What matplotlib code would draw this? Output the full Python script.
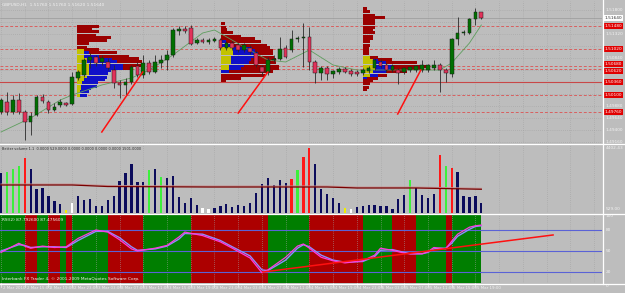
import matplotlib
matplotlib.use("Agg")
import matplotlib.pyplot as plt
from matplotlib.lines import Line2D
from matplotlib.transforms import blended_transform_factory as blend

# ---- GBPUSD H1 bars ----
opens = [1.4976, 1.4996, 1.4976, 1.5000, 1.4976, 1.4956, 1.4970, 1.5006, 1.4996, 1.4980,
         1.4990, 1.4994, 1.4992, 1.5044, 1.5050, 1.5080, 1.5086, 1.5076, 1.5076, 1.5060,
         1.5034, 1.5030, 1.5036, 1.5068, 1.5050, 1.5074, 1.5056, 1.5074, 1.5080, 1.5090,
         1.5138, 1.5142, 1.5144, 1.5114, 1.5120, 1.5116, 1.5118, 1.5120, 1.5104, 1.5114,
         1.5110, 1.5100, 1.5104, 1.5094, 1.5066, 1.5056, 1.5080, 1.5082, 1.5104, 1.5100,
         1.5122, 1.5124, 1.5126, 1.5076, 1.5054, 1.5064, 1.5052, 1.5056, 1.5062, 1.5058,
         1.5056, 1.5054, 1.5058, 1.5064, 1.5076, 1.5070, 1.5060, 1.5060, 1.5056, 1.5060,
         1.5060, 1.5060, 1.5060, 1.5064, 1.5070, 1.5060, 1.5052, 1.5122, 1.5134, 1.5134,
         1.5162, 1.5176]
highs = [1.5004, 1.5016, 1.5010, 1.5014, 1.4980, 1.4976, 1.5010, 1.5012, 1.5000, 1.4994,
         1.5002, 1.4996, 1.5056, 1.5060, 1.5084, 1.5094, 1.5090, 1.5090, 1.5084, 1.5070,
         1.5040, 1.5044, 1.5070, 1.5076, 1.5090, 1.5080, 1.5090, 1.5090, 1.5100, 1.5144,
         1.5148, 1.5148, 1.5150, 1.5124, 1.5124, 1.5124, 1.5126, 1.5124, 1.5118, 1.5118,
         1.5114, 1.5114, 1.5110, 1.5100, 1.5070, 1.5086, 1.5090, 1.5126, 1.5110, 1.5140,
         1.5128, 1.5154, 1.5146, 1.5080, 1.5068, 1.5068, 1.5060, 1.5066, 1.5066, 1.5062,
         1.5060, 1.5064, 1.5068, 1.5084, 1.5082, 1.5074, 1.5072, 1.5064, 1.5066, 1.5068,
         1.5070, 1.5080, 1.5072, 1.5080, 1.5074, 1.5064, 1.5124, 1.5166, 1.5140, 1.5164,
         1.5184, 1.5176]
lows = [1.4972, 1.4970, 1.4972, 1.4972, 1.4920, 1.4930, 1.4968, 1.4994, 1.4974, 1.4978,
        1.4986, 1.4988, 1.4990, 1.5040, 1.5046, 1.5064, 1.5068, 1.5070, 1.5060, 1.5024,
        1.5004, 1.5010, 1.5032, 1.5046, 1.5044, 1.5052, 1.5054, 1.5064, 1.5060, 1.5086,
        1.5130, 1.5134, 1.5110, 1.5112, 1.5114, 1.5112, 1.5116, 1.5100, 1.5100, 1.5100,
        1.5096, 1.5096, 1.5092, 1.5066, 1.5050, 1.5050, 1.5076, 1.5080, 1.5084, 1.5096,
        1.5116, 1.5066, 1.5060, 1.5034, 1.5040, 1.5040, 1.5044, 1.5052, 1.5054, 1.5048,
        1.5048, 1.5050, 1.5054, 1.5060, 1.5064, 1.5056, 1.5056, 1.5032, 1.5052, 1.5056,
        1.5056, 1.5056, 1.5056, 1.5060, 1.5016, 1.5036, 1.5046, 1.5110, 1.5130, 1.5132,
        1.5150, 1.5162]
closes = [1.5000, 1.4976, 1.5000, 1.4976, 1.4956, 1.4968, 1.5006, 1.4998, 1.4980, 1.4986,
          1.4996, 1.4990, 1.5046, 1.5056, 1.5080, 1.5086, 1.5074, 1.5084, 1.5064, 1.5034,
          1.5030, 1.5036, 1.5066, 1.5050, 1.5074, 1.5056, 1.5076, 1.5080, 1.5090, 1.5140,
          1.5142, 1.5138, 1.5112, 1.5120, 1.5116, 1.5120, 1.5122, 1.5104, 1.5114, 1.5104,
          1.5100, 1.5110, 1.5096, 1.5070, 1.5056, 1.5080, 1.5082, 1.5102, 1.5086, 1.5122,
          1.5124, 1.5126, 1.5076, 1.5054, 1.5064, 1.5052, 1.5058, 1.5062, 1.5056, 1.5052,
          1.5052, 1.5060, 1.5064, 1.5080, 1.5068, 1.5060, 1.5068, 1.5054, 1.5064, 1.5066,
          1.5068, 1.5070, 1.5070, 1.5070, 1.5060, 1.5054, 1.5122, 1.5134, 1.5136, 1.5162,
          1.5176, 1.5164]

# moving average on price (read at a few bars)
ma_idx = [0, 5, 10, 12, 17, 22, 25, 29, 34, 36, 41, 45, 48, 52, 56, 60, 74, 76, 79, 81]
ma_val = [1.4936, 1.4964, 1.5000, 1.5010, 1.5030, 1.5044, 1.5060, 1.5090, 1.5134, 1.5140,
          1.5106, 1.5080, 1.5076, 1.5100, 1.5070, 1.5060, 1.5060, 1.5074, 1.5114, 1.5150]

# horizontal levels
levels = [1.5148, 1.5102, 1.5068, 1.5062, 1.5036, 1.5010, 1.4976]
level_solid = [False, False, False, False, True, False, False]
level_label_pos = [1.5148, 1.5102, 1.5072, 1.5058, 1.5036, 1.5010, 1.4976]
price_ticks = [1.5180, 1.5132, 1.5084, 1.4988, 1.4964, 1.4940, 1.4916]
price_grid = [1.5180, 1.5156, 1.5132, 1.5108, 1.5084, 1.5060, 1.5036, 1.5012,
              1.4988, 1.4964, 1.4940, 1.4916]
last_price = 1.5164

# trend lines drawn on the chart (bar, price) pairs
trend_lines = [((17.0, 1.4936), (23.9, 1.5056)),
               ((40.0, 1.4974), (45.0, 1.5056)),
               ((66.9, 1.4972), (70.8, 1.5060))]

# volume profiles: anchor bar, price rows, widths in bars (yellow / blue / red)
prof1_anchor = 12.8
prof1_levels = [1.5148, 1.5142, 1.5136, 1.5130, 1.5124, 1.5118, 1.5112, 1.5106, 1.5100, 1.5094,
                1.5088, 1.5082, 1.5076, 1.5070, 1.5064, 1.5058, 1.5052, 1.5046, 1.5040, 1.5034,
                1.5028, 1.5022, 1.5016, 1.5010]
prof1_yel = [0, 0, 0, 0, 0, 0, 0, 0, 1.2, 1.2, 1.2, 1.7, 1.7, 2.0, 2.0, 2.0, 2.0, 1.7, 1.2, 0.8,
             0.7, 0.7, 0.5, 0.5]
prof1_blu = [0, 0, 0, 0, 0, 0, 0, 0, 0, 0.8, 2.5, 4.2, 5.0, 5.8, 5.8, 3.8, 3.3, 3.3, 3.5, 2.8,
             2.7, 1.7, 1.5, 1.2]
prof1_red = [3.7, 2.5, 3.7, 3.3, 5.8, 5.0, 2.0, 1.7, 2.5, 4.7, 5.0, 4.5, 4.2, 3.7, 1.3, 0, 0, 0,
             0, 0, 0, 0, 0, 0]

prof2_anchor = 37.1
prof2_levels = [1.5152, 1.5146, 1.5140, 1.5134, 1.5128, 1.5122, 1.5116, 1.5110, 1.5104, 1.5098,
                1.5092, 1.5086, 1.5080, 1.5074, 1.5068, 1.5062, 1.5056, 1.5050, 1.5044, 1.5038]
prof2_yel = [0, 0, 0, 0, 0, 0, 0, 0, 2.0, 2.0, 2.0, 1.7, 1.7, 1.7, 1.3, 1.3, 0, 0, 0, 0]
prof2_blu = [0, 0, 0, 0, 0, 0, 0.8, 2.0, 3.3, 3.7, 4.2, 4.2, 3.3, 3.0, 2.5, 2.0, 1.3, 0, 0, 0]
prof2_red = [0.7, 0.8, 1.0, 2.0, 3.3, 5.8, 5.9, 5.7, 3.0, 3.0, 2.5, 3.1, 4.2, 4.6, 5.9, 6.5,
             7.4, 7.5, 3.3, 0.8]

prof3_anchor = 61.0
prof3_levels = [1.5182, 1.5176, 1.5170, 1.5164, 1.5158, 1.5152, 1.5146, 1.5140, 1.5134, 1.5128,
                1.5122, 1.5116, 1.5110, 1.5104, 1.5098, 1.5092, 1.5086, 1.5080, 1.5074, 1.5068,
                1.5062, 1.5056, 1.5050, 1.5044, 1.5038, 1.5032, 1.5026, 1.5020]
prof3_yel = [0] * 16 + [1.3, 1.7, 2.0, 2.0, 2.0, 1.7, 1.3, 0, 0, 0, 0, 0]
prof3_blu = [0] * 17 + [0.8, 2.0, 3.0, 3.0, 2.3, 1.3, 0.8, 0, 0, 0, 0]
prof3_red = [0.8, 1.3, 2.0, 3.7, 2.0, 2.0, 2.0, 1.7, 2.0, 1.7, 1.7, 1.3, 1.3, 1.0, 1.0, 1.0,
             1.2, 2.5, 5.2, 6.3, 5.3, 3.5, 1.5, 1.7, 1.7, 1.3, 1.0, 0.7]

# ---- Better volume ----
volumes = [2628, 2694, 2891, 3088, 3613, 2891, 1577, 1643, 1117, 788,
           591, 197, 657, 1117, 854, 920, 460, 460, 854, 1117,
           2102, 2628, 3219, 2037, 2037, 2825, 2891, 2365, 2300, 2431,
           1051, 657, 986, 526, 300, 260, 330, 460, 591, 394,
           526, 460, 657, 1314, 1905, 2300, 1840, 2168, 1971, 2234,
           2825, 3679, 4271, 3219, 1577, 1248, 986, 657, 330, 263,
           394, 460, 526, 526, 460, 460, 263, 920, 1183, 2168,
           1643, 1183, 986, 1248, 3811, 3088, 2957, 2694, 1117, 1051,
           1117, 657]
vol_green = [1, 2, 3, 25, 27, 50, 69, 75]
vol_red = [4, 49, 51, 52, 74, 76]
vol_white = [12, 34, 35, 59]
vol_yellow = [11, 58]
vol_ma_idx = [0, 12, 18, 35, 55, 60, 70, 81]
vol_ma_val = [1840, 1840, 1740, 1708, 1708, 1643, 1643, 1560]
vol_ma2_val = [1900, 1900, 1800, 1770, 1770, 1700, 1700, 1620]

# ---- oscillator panel ----
osc_idx = [0, 3, 4, 5, 7, 9, 11, 13, 16, 18, 20, 22, 23, 26, 28, 30, 31, 34, 37, 39,
           42, 44, 45, 48, 50, 51, 52, 54, 56, 58, 61, 63, 64, 66, 68, 69, 71, 72, 73, 74,
           75, 76, 77, 79, 80, 81]
osc_main = [48, 61, 57, 54, 57, 55, 56, 68, 80, 77, 66, 53, 50, 54, 58, 70, 77, 72, 63, 54,
            40, 19, 23, 41, 57, 60, 54, 41, 36, 33, 36, 44, 54, 51, 47, 46, 46, 49, 55, 54,
            53, 64, 74, 84, 86, 87]
osc_signal = [50, 59, 58, 55, 56, 56, 55, 65, 78, 78, 69, 56, 51, 53, 57, 67, 75, 74, 65, 56,
              43, 23, 22, 37, 54, 59, 56, 44, 37, 34, 35, 42, 51, 52, 48, 46, 46, 48, 53, 54,
              54, 61, 71, 81, 85, 86]
band_edges = [-0.2, 4, 6, 8, 10, 11, 12, 18, 24, 32, 45, 52, 61, 66, 70, 75, 76, 81]
band_kind = list("grgrgrgrgrgrgrgrg")
osc_levels = [80, 50, 20]
osc_axis = [100, 80, 50, 20, 0]
osc_trend = ((44.2, 20), (93.1, 72.9))

time_labels = ["2 Mar 2010", "2 Mar 15:00", "2 Mar 19:00", "2 Mar 23:00", "3 Mar 03:00",
               "3 Mar 07:00", "3 Mar 11:00", "3 Mar 15:00", "3 Mar 19:00", "3 Mar 23:00",
               "4 Mar 03:00", "4 Mar 07:00", "4 Mar 11:00", "4 Mar 15:00", "4 Mar 19:00",
               "4 Mar 23:00", "5 Mar 03:00", "5 Mar 07:00", "5 Mar 11:00", "5 Mar 15:00",
               "5 Mar 19:00"]

BG = "#bdbdbd"
GRID = "#a2a2a2"
TXT = "#f2f2f2"
FS = 3.1
FONT = ["Liberation Sans Narrow", "DejaVu Sans"]
W, H = 625, 293
plt.rcParams["font.family"] = FONT


def px_box(x0, y0, x1, y1):
    return [x0 / W, 1 - y1 / H, (x1 - x0) / W, (y1 - y0) / H]


fig = plt.figure(figsize=(6.25, 2.93), dpi=100, facecolor=BG)
ax_p = fig.add_axes(px_box(0, 1, 602, 143))
ax_v = fig.add_axes(px_box(0, 145, 602, 213))
ax_i = fig.add_axes(px_box(0, 215, 602, 283))
for ax in (ax_p, ax_v, ax_i):
    ax.set_facecolor(BG)
    ax.set_xlim(-0.17, 101.35)
    ax.set_xticks([])
    ax.set_yticks([])
    for s in ax.spines.values():
        s.set_visible(False)

grid_x = list(range(0, 101, 4))

# ---------- price panel ----------
ax_p.set_ylim(1.4914, 1.5198)
for g in grid_x:
    ax_p.axvline(g, color=GRID, lw=0.5, ls=(0, (1, 2)), zorder=0)
for t in price_grid:
    ax_p.axhline(t, color=GRID, lw=0.5, ls=(0, (1, 2)), zorder=0)

for lv, solid in zip(levels, level_solid):
    if solid:
        ax_p.axhline(lv, color="#c84848", lw=0.8, zorder=1)
    else:
        ax_p.axhline(lv, color="#d86060", lw=0.7, ls=(0, (3, 2)), zorder=1)
ax_p.axhline(last_price, color="#9a9a9a", lw=0.5, zorder=1)


def draw_profile(ax, anchor, lv, yel, blu, red):
    left_b = [anchor + a for a in yel]
    left_r = [anchor + a + b for a, b in zip(yel, blu)]
    ax.barh(lv, yel, left=anchor, height=0.0006, color="#c2c200", lw=0, zorder=2)
    ax.barh(lv, blu, left=left_b, height=0.0006, color="#1010c8", lw=0, zorder=2)
    ax.barh(lv, red, left=left_r, height=0.0006, color="#9a0000", lw=0, zorder=2)


draw_profile(ax_p, prof1_anchor, prof1_levels, prof1_yel, prof1_blu, prof1_red)
draw_profile(ax_p, prof2_anchor, prof2_levels, prof2_yel, prof2_blu, prof2_red)
draw_profile(ax_p, prof3_anchor, prof3_levels, prof3_yel, prof3_blu, prof3_red)

ax_p.plot(ma_idx, ma_val, color="#5e9e5e", lw=0.6, zorder=3)

bars = range(len(opens))
ax_p.vlines(bars, lows, highs, color="#2a2a2a", lw=0.6, zorder=4)
bottoms = [min(o, c) for o, c in zip(opens, closes)]
heights = [max(abs(c - o), 0.00005) for o, c in zip(opens, closes)]
cols = ["#007000" if c >= o else "#e2325a" for o, c in zip(opens, closes)]
ax_p.bar(bars, heights, bottom=bottoms, width=0.62, color=cols,
         edgecolor="#1a1a1a", linewidth=0.35, zorder=5)

for (x0, y0), (x1, y1) in trend_lines:
    ax_p.plot([x0, x1], [y0, y1], color="#ff1010", lw=1.1, zorder=6)

ax_p.text(0.004, 0.985, "GBPUSD,H1  1.51760 1.51760 1.51620 1.51640",
          transform=ax_p.transAxes, fontsize=FS, color=TXT, va="top", ha="left")

tr = blend(ax_p.transAxes, ax_p.transData)
for t in price_ticks:
    ax_p.text(1.006, t, f"{t:.5f}", transform=tr, fontsize=FS, color=TXT,
              va="center", ha="left", clip_on=False)
for lv, pos in zip(levels, level_label_pos):
    ax_p.text(1.004, pos, f"{lv:.5f}", transform=tr, fontsize=FS, color="white",
              va="center", ha="left", clip_on=False,
              bbox=dict(boxstyle="square,pad=0.2", fc="#e00000", ec="none"))
ax_p.text(1.004, last_price, f"{last_price:.5f}", transform=tr, fontsize=FS,
          color="#303030", va="center", ha="left", clip_on=False,
          bbox=dict(boxstyle="square,pad=0.2", fc="white", ec="none"))

# ---------- volume panel ----------
ax_v.set_ylim(0, 4468)
for g in grid_x:
    ax_v.axvline(g, color=GRID, lw=0.5, ls=(0, (1, 2)), zorder=0)
vcols = []
for i in bars:
    if i in vol_green:
        vcols.append("#3cf03c")
    elif i in vol_red:
        vcols.append("#ff1818")
    elif i in vol_white:
        vcols.append("#ffffff")
    elif i in vol_yellow:
        vcols.append("#f0f000")
    else:
        vcols.append("#0c0c5c")
ax_v.bar(bars, volumes, width=0.38, color=vcols, lw=0, zorder=2)
ax_v.plot(vol_ma_idx, vol_ma2_val, color="#c49090", lw=0.8, zorder=3)
ax_v.plot(vol_ma_idx, vol_ma_val, color="#780000", lw=0.9, zorder=3)
ax_v.text(0.004, 0.97, "Better volume 1.1  0.0000 529.0000 0.0000 0.0000 0.0000 0.0000 1501.0000",
          transform=ax_v.transAxes, fontsize=2.5, color="#2a2a2a", va="top", ha="left")
ax_v.text(1.006, 0.985, "4402.43", transform=ax_v.transAxes, fontsize=FS, color=TXT,
          va="top", ha="left", clip_on=False)
ax_v.text(1.006, 0.03, "529.00", transform=ax_v.transAxes, fontsize=FS, color=TXT,
          va="bottom", ha="left", clip_on=False)

# ---------- oscillator panel ----------
ax_i.set_ylim(4.3, 101.4)
band_col = {"g": "#007e00", "r": "#ac0000"}
for a, b, k in zip(band_edges[:-1], band_edges[1:], band_kind):
    ax_i.axvspan(a, b, color=band_col[k], lw=0, zorder=0)
for g in grid_x:
    ax_i.axvline(g, color=GRID, lw=0.5, ls=(0, (1, 2)), zorder=1)
for lv in osc_levels:
    ax_i.axhline(lv, color="#5a62d6", lw=0.8, zorder=2)
ax_i.plot(osc_idx, osc_signal, color="#8c8cff", lw=1.0, zorder=3)
ax_i.plot(osc_idx, osc_main, color="#ff3cdc", lw=0.9, zorder=4)
ax_i.plot([osc_trend[0][0], osc_trend[1][0]], [osc_trend[0][1], osc_trend[1][1]],
          color="#ff1010", lw=1.1, zorder=5)
ax_i.text(0.004, 0.96, "RSI(2) 87.792600 87.475609", transform=ax_i.transAxes,
          fontsize=FS, color=TXT, va="top", ha="left")
ax_i.text(0.004, 0.03, "Interbank FX Trader 4, \u00a9 2001-2009 MetaQuotes Software Corp.",
          transform=ax_i.transAxes, fontsize=FS, color=TXT, va="bottom", ha="left")
tri = blend(ax_i.transAxes, ax_i.transData)
for v in osc_axis:
    ax_i.text(1.006, v, str(v), transform=tri, fontsize=FS, color=TXT,
              va="center", ha="left", clip_on=False)

# time axis
trt = blend(ax_i.transData, ax_i.transAxes)
for k, lab in enumerate(time_labels):
    x = 4 * k
    ax_i.add_line(Line2D([x, x], [0, -0.06], transform=trt, color=TXT, lw=0.5, clip_on=False))
    ax_i.text(x + 0.3, -0.075, lab, transform=trt, fontsize=2.9, color=TXT,
              va="center", ha="left", clip_on=False)

# panel separators
for yy in (144, 214, 283.5):
    fig.add_artist(Line2D([0, 1], [1 - yy / H] * 2, transform=fig.transFigure,
                          color="white", lw=0.9))
fig.add_artist(Line2D([602.5 / W] * 2, [1 - 283.5 / H, 1], transform=fig.transFigure,
                      color="white", lw=0.9))

fig.savefig("out.png", dpi=100, facecolor=BG)
